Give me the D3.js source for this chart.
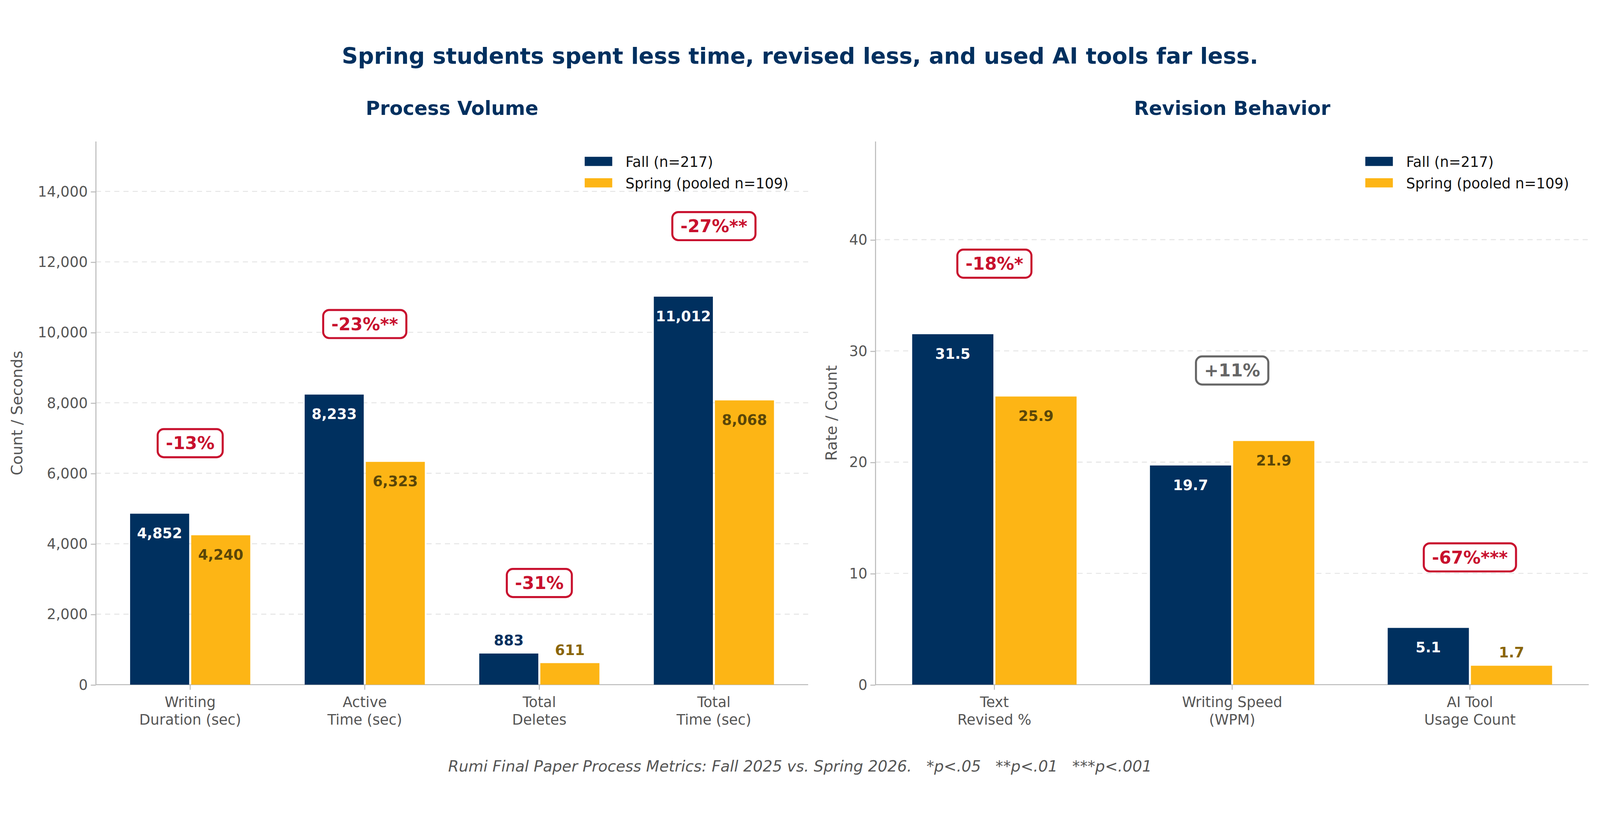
<!DOCTYPE html>
<html><head><meta charset="utf-8">
<script src="https://cdn.jsdelivr.net/npm/d3@7"></script>
<style>html,body{margin:0;padding:0;background:#fff;overflow:hidden}svg{display:block}text{font-family:"DejaVu Sans",sans-serif;white-space:pre}</style>
</head><body>
<svg id="chart" style="width:100vw;height:100vh" viewBox="0 0 1568 736" preserveAspectRatio="xMidYMid meet"></svg>
<script>
// left panel data
var volCats = ["Writing\nDuration (sec)", "Active\nTime (sec)", "Total\nDeletes", "Total\nTime (sec)"];
var volFall = [4852, 8233, 883, 11012];
var volSpring = [4240, 6323, 611, 8068];
var volNotes = ["-13%", "-23%**", "-31%", "-27%**"];
var volSig = [true, true, true, true];
var volTicks = [0, 2000, 4000, 6000, 8000, 10000, 12000, 14000];
// right panel data
var revCats = ["Text\nRevised %", "Writing Speed\n(WPM)", "AI Tool\nUsage Count"];
var revFall = [31.5, 19.7, 5.1];
var revSpring = [25.9, 21.9, 1.7];
var revNotes = ["-18%*", "+11%", "-67%***"];
var revSig = [true, false, true];
var revTicks = [0, 10, 20, 30, 40];

var NAVY = "#00305f", GOLD = "#fdb515", RED = "#c8102e", GREY = "#555";
var svg = d3.select("#chart");

svg.append("text").attr("x", 784).attr("y", 29).attr("text-anchor", "middle")
  .attr("font-size", 22).attr("font-weight", "bold").attr("fill", NAVY)
  .text("Spring students spent less time, revised less, and used AI tools far less.");
svg.append("text").attr("x", 784).attr("y", 722).attr("text-anchor", "middle")
  .attr("font-size", 15).attr("font-style", "italic").attr("fill", GREY)
  .text("Rumi Final Paper Process Metrics: Fall 2025 vs. Spring 2026.   *p<.05   **p<.01   ***p<.001");

function panel(o) {
  var n = o.cats.length;
  var ymax = d3.max(o.fall) * o.headroom;
  var x = d3.scaleLinear().domain(n == 3 ? [-0.5, 2.5] : [-0.54, n - 0.46]).range([o.x0, o.x1]);
  var y = d3.scaleLinear().domain([0, ymax]).range([637, 105]);
  var g = svg.append("g");
  var bw = 0.35, fmt = o.fmt;

  g.append("text").attr("x", (o.x0 + o.x1) / 2).attr("y", 79).attr("text-anchor", "middle")
    .attr("font-size", 19).attr("font-weight", "bold").attr("fill", NAVY).text(o.title);

  g.selectAll(".grid").data(o.ticks.slice(1)).enter().append("line")
    .attr("x1", o.x0).attr("x2", o.x1).attr("y1", d => y(d)).attr("y2", d => y(d))
    .attr("stroke", "#e6e6e6").attr("stroke-dasharray", "5,4");

  var yAxis = g.append("g").attr("transform", "translate(" + o.x0 + ",0)")
    .call(d3.axisLeft(y).tickValues(o.ticks).tickFormat(d3.format(",")).tickSize(5));
  yAxis.select(".domain").attr("d", "M0,637V105").attr("stroke", "#bbb");
  yAxis.selectAll(".tick line").attr("stroke", "#bbb");
  yAxis.selectAll("text").attr("font-size", 14).attr("fill", GREY).attr("font-family", "DejaVu Sans");

  g.append("line").attr("x1", o.x0).attr("x2", o.x1).attr("y1", 637).attr("y2", 637).attr("stroke", "#bbb");
  g.append("text").attr("transform", "translate(" + o.ylx + ",371) rotate(-90)")
    .attr("text-anchor", "middle").attr("font-size", 15).attr("fill", GREY).text(o.ylabel);

  o.cats.forEach(function (c, i) {
    var cx = x(i);
    g.append("line").attr("x1", cx).attr("x2", cx).attr("y1", 637).attr("y2", 642).attr("stroke", "#bbb");
    var t = g.append("text").attr("text-anchor", "middle").attr("font-size", 14).attr("fill", GREY);
    c.split("\n").forEach(function (l, j) { t.append("tspan").attr("x", cx).attr("y", 659 + j * 17).text(l); });

    [[o.fall[i], NAVY, -1], [o.spring[i], GOLD, 1]].forEach(function (s) {
      var v = s[0], xs = s[2] < 0 ? x(i - bw) : x(i);
      var w = x(bw) - x(0);
      g.append("rect").attr("x", xs + 1).attr("y", y(v)).attr("width", w - 2).attr("height", 637 - y(v))
        .attr("fill", s[1]);
      var inside = 637 - y(v) > 40;
      var fill = s[2] < 0 ? (inside ? "#fff" : NAVY) : (inside ? "#5a4608" : "#8a6508");
      g.append("text").attr("x", xs + w / 2).attr("y", inside ? y(v) + 24 : y(v) - 8)
        .attr("text-anchor", "middle").attr("font-size", 14).attr("font-weight", "bold")
        .attr("fill", fill).text(fmt(v));
    });

    var col = o.sig[i] ? RED : "#666";
    var ay = y(d3.max([o.fall[i], o.spring[i]]) + ymax * 0.13);
    var box = g.append("rect");
    var at = g.append("text").attr("x", cx).attr("y", ay + 6).attr("text-anchor", "middle")
      .attr("font-size", 17).attr("font-weight", "bold").attr("fill", col).text(o.notes[i]);
    var bb = at.node().getBBox();
    box.attr("x", bb.x - 8).attr("y", bb.y - 4)
      .attr("width", bb.width + 16).attr("height", bb.height + 8).attr("rx", 6)
      .attr("fill", "#fff").attr("stroke", col).attr("stroke-width", 2);
  });

  var leg = g.append("g").attr("transform", "translate(" + o.legx + ",0)");
  [["Fall (n=217)", NAVY], ["Spring (pooled n=109)", GOLD]].forEach(function (d, j) {
    leg.append("rect").attr("x", 0).attr("y", 120 + j * 21).attr("width", 27).attr("height", 9).attr("fill", d[1]);
    leg.append("text").attr("x", 40).attr("y", 130 + j * 21).attr("font-size", 14).attr("fill", "#111").text(d[0]);
  });
}

panel({ title: "Process Volume", cats: volCats, fall: volFall, spring: volSpring, notes: volNotes, sig: volSig,
  ticks: volTicks, headroom: 1.4, x0: 94, x1: 792, ylx: 22, ylabel: "Count / Seconds", legx: 573,
  fmt: d3.format(",") });
panel({ title: "Revision Behavior", cats: revCats, fall: revFall, spring: revSpring, notes: revNotes, sig: revSig,
  ticks: revTicks, headroom: 1.55, x0: 858, x1: 1557, ylx: 820, ylabel: "Rate / Count", legx: 1338,
  fmt: d3.format(".1f") });
</script>
</body></html>
